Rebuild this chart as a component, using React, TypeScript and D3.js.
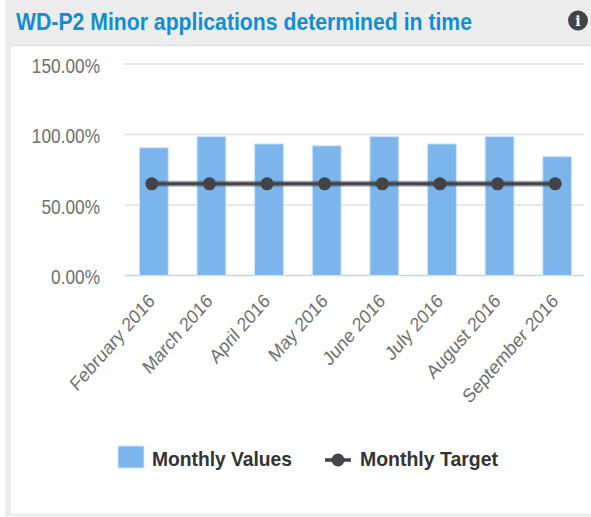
import React from 'react';
import * as d3 from 'd3';

const months = ['February 2016', 'March 2016', 'April 2016', 'May 2016', 'June 2016', 'July 2016', 'August 2016', 'September 2016'];
const monthlyValues = [90.6, 98.5, 93.3, 92, 98.5, 93.3, 98.5, 84.3];
const monthlyTarget = [65, 65, 65, 65, 65, 65, 65, 65];
const yTicks = [0, 50, 100, 150];

const W = 591;
const H = 517;
const FONT = '"Liberation Sans", Arial, sans-serif';
// the whole picture is squeezed sideways, so text is too
const SQUEEZE = 0.885;

const x = d3.scaleBand<string>().domain(months).range([125, 586]).paddingInner(0.5).paddingOuter(0.25);
const y = d3.scaleLinear().domain([0, 150]).range([275.5, 64]);

const centre = (m: string) => (x(m) as number) + x.bandwidth() / 2;

const targetLine = d3.line<number>()
  .x((_, i) => centre(months[i]) - 2)
  .y(d => y(d));

export default function App() {
  const target = targetLine(monthlyTarget) as string;
  return (
    <svg width={W} height={H} style={{ position: 'absolute', left: 0, top: 0, background: '#fff' }}>
      {/* panel */}
      <rect x={5.5} y={0} width={W} height={516.5} fill="#ececec" />
      <rect x={11} y={46} width={W} height={467.5} fill="#fff" />
      <line x1={11} x2={W} y1={45.5} y2={45.5} stroke="#e2e2e2" strokeWidth={1.5} />
      <text x={16} y={30} fontFamily={FONT} fontSize={23} fontWeight="bold" fill="#0f8fd0" textLength={456} lengthAdjust="spacingAndGlyphs">
        WD-P2 Minor applications determined in time
      </text>
      <circle cx={578} cy={20.5} r={10} fill="#444" />
      <text x={578} y={26} textAnchor="middle" fontFamily='"DejaVu Serif", serif' fontWeight="bold" fontSize={14} fill="#fff">i</text>

      {/* grid and y axis */}
      {yTicks.map(t => (
        <g key={t}>
          <line x1={124.5} x2={584} y1={y(t)} y2={y(t)} stroke={t === 0 ? '#c5d8ec' : '#dedede'} strokeWidth={1.5} />
          <text
            transform={`translate(100,${y(t) + 8.5}) scale(${SQUEEZE},1)`}
            textAnchor="end"
            fontFamily={FONT}
            fontSize={19.5}
            fill="#6f6f6f"
          >
            {d3.format('.2f')(t)}%
          </text>
        </g>
      ))}

      {/* bars */}
      {months.map((m, i) => (
        <rect
          key={m}
          x={x(m)}
          y={y(monthlyValues[i])}
          width={x.bandwidth()}
          height={y(0) - y(monthlyValues[i])}
          fill="#7cb5ec"
          stroke="#cfe3f7"
          strokeWidth={1}
        />
      ))}

      {/* target line */}
      <path d={target} fill="none" stroke="#434348" strokeOpacity={0.45} strokeWidth={6} />
      <path d={target} fill="none" stroke="#434348" strokeWidth={3} />
      {months.map((m, i) => (
        <circle key={m} cx={centre(m) - 2} cy={y(monthlyTarget[i])} r={6.5} fill="#434348" />
      ))}

      {/* x labels */}
      {months.map(m => (
        <text
          key={m}
          transform={`translate(${centre(m) + 2},${302}) scale(1.04,1.19) rotate(-45)`}
          textAnchor="end"
          fontFamily={FONT}
          fontSize={16.5}
          fill="#6f6f6f"
        >
          {m}
        </text>
      ))}

      {/* legend */}
      <rect x={118} y={446} width={26} height={22} fill="#7cb5ec" stroke="#cfe3f7" strokeWidth={1} />
      <text x={152} y={466} fontFamily={FONT} fontSize={21} fontWeight="bold" fill="#333" textLength={140} lengthAdjust="spacingAndGlyphs">Monthly Values</text>
      <line x1={325} x2={351} y1={460} y2={460} stroke="#434348" strokeWidth={3.5} />
      <circle cx={338} cy={460} r={6.5} fill="#434348" />
      <text x={360} y={466} fontFamily={FONT} fontSize={21} fontWeight="bold" fill="#333" textLength={138} lengthAdjust="spacingAndGlyphs">Monthly Target</text>
    </svg>
  );
}
